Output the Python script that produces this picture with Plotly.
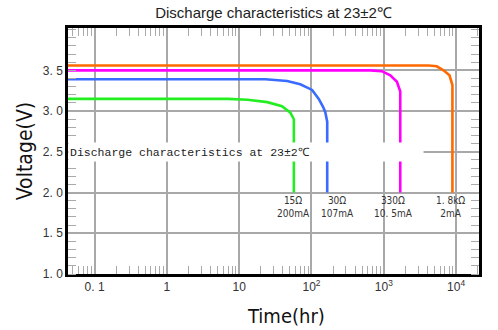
import numpy as np
import plotly.graph_objects as go

# ---- data ----
green_t = [0.04, 7, 13, 24.5, 39, 51, 57, 57, 57]
green_v = [3.15, 3.15, 3.14, 3.11, 3.06, 2.98, 2.90, 2.80, 2.0]
blue_t = [0.04, 23, 46, 70, 102, 126, 145, 155, 165, 165]
blue_v = [3.39, 3.39, 3.37, 3.33, 3.26, 3.15, 3.05, 2.99, 2.87, 2.0]
magenta_t = [0.04, 650, 940, 1230, 1520, 1690, 1690]
magenta_v = [3.50, 3.50, 3.49, 3.44, 3.36, 3.24, 2.0]
orange_t = [0.04, 4150, 5400, 6700, 8100, 8900, 8900]
orange_v = [3.56, 3.56, 3.55, 3.50, 3.44, 3.32, 2.0]

series_names = ["15Ω 200mA", "30Ω 107mA", "330Ω 10.5mA", "1.8kΩ 2mA"]
series_colors = ["#22EE22", "#3A6BFF", "#FF00FF", "#FF6A00"]
label_texts = ["15Ω<br>200mA", "30Ω<br>107mA", "330Ω<br>10. 5mA", "1. 8kΩ<br>2mA"]
label_t = [57, 226, 1350, 8300]
label_v = 1.82

x_tickvals = [0.1, 1, 10, 100, 1000, 10000]
x_ticktext = ["0. 1", "1", "10", "10<sup>2</sup>", "10<sup>3</sup>", "10<sup>4</sup>"]
y_tickvals = [1.0, 1.5, 2.0, 2.5, 3.0, 3.5]
y_ticktext = ["1. 0", "1. 5", "2. 0", "2. 5", "3. 0", "3. 5"]

title_text = "Discharge characteristics at 23±2℃"

fig = go.Figure()
for t, v, c, n in zip([green_t, blue_t, magenta_t, orange_t],
                      [green_v, blue_v, magenta_v, orange_v],
                      series_colors, series_names):
    fig.add_trace(go.Scatter(x=t, y=v, mode="lines", name=n,
                             line=dict(color=c, width=2.6), showlegend=False))

for txt, t in zip(label_texts, label_t):
    fig.add_annotation(x=np.log10(t), y=label_v, xref="x", yref="y", text=txt,
                       showarrow=False, align="center",
                       font=dict(family="DejaVu Sans Condensed", size=10, color="#333"))

fig.add_annotation(x=0, y=2.5, xref="paper", yref="y", xanchor="left", yanchor="middle",
                   text=title_text, showarrow=False, width=352, height=16, align="left",
                   bgcolor="white", borderpad=1,
                   font=dict(family="Liberation Mono", size=11.5, color="#222"))

# x-axis title (placed slightly right of centre as in the reference)
fig.add_annotation(x=0.53, y=0, xref="paper", yref="paper", yshift=-42,
                   xanchor="center", yanchor="middle", text="Time(hr)", showarrow=False,
                   font=dict(family="DejaVu Sans Condensed", size=20, color="#111"))

fig.update_layout(
    width=498, height=330,
    margin=dict(l=68, r=19, t=28, b=56),
    paper_bgcolor="white", plot_bgcolor="white",
    title=dict(text=title_text, x=0.5, xref="paper", y=0.96, yref="container",
               xanchor="center", yanchor="middle",
               font=dict(family="Liberation Sans", size=15, color="#222")),
)

fig.update_xaxes(
    type="log", range=[-1.368, 4.317],
    tickvals=x_tickvals, ticktext=x_ticktext,
    tickfont=dict(family="Liberation Sans", size=12, color="#333"),
    showgrid=True, gridcolor="#A8A8A8", gridwidth=1.5,
    showline=True, linecolor="black", linewidth=2.5, mirror="allticks",
    ticks="", zeroline=False,
    minor=dict(dtick="D1", ticks="inside", ticklen=8, tickcolor="#AAAAAA", tickwidth=1, showgrid=False),
)
fig.update_yaxes(
    range=[1.0, 4.02],
    tickvals=y_tickvals, ticktext=y_ticktext,
    tickfont=dict(family="Liberation Sans", size=12, color="#333"),
    showgrid=True, gridcolor="#A8A8A8", gridwidth=1.5,
    showline=True, linecolor="black", linewidth=2.5, mirror="allticks",
    ticks="", zeroline=False,
    minor=dict(dtick=0.1, ticks="inside", ticklen=8, tickcolor="#AAAAAA", tickwidth=1, showgrid=False),
    title=dict(text="Voltage(V)", standoff=5,
               font=dict(family="DejaVu Sans Condensed", size=21, color="#111")),
)

fig.write_html("out.html")
